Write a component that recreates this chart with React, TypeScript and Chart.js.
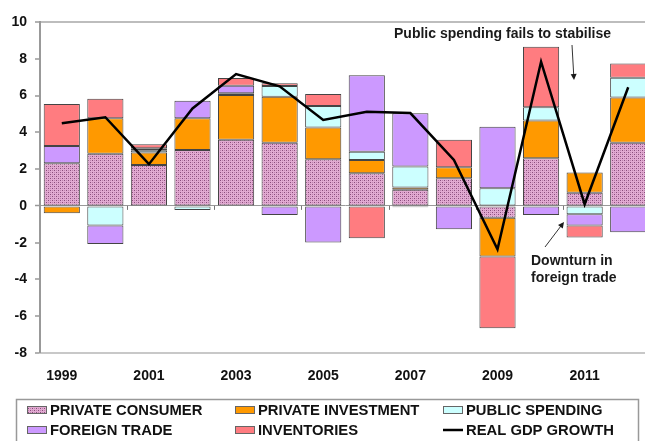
import React, { useEffect, useRef } from "react";
import { Chart, registerables } from "chart.js";

Chart.register(...registerables);

// ---------- DATA ----------
const years = ["1999", "2000", "2001", "2002", "2003", "2004", "2005", "2006", "2007", "2008", "2009", "2010", "2011", "2012"];
const privateConsumer = [2.32, 2.83, 2.23, 3.04, 3.6, 3.44, 2.54, 1.78, 0.88, 1.5, -0.65, 2.59, 0.72, 3.44];
const privateInvestment = [-0.4, 1.93, 0.67, 1.72, 2.43, 2.5, 1.72, 0.72, 0.12, 0.6, -2.1, 2.05, 1.09, 2.46];
const publicSpending = [0, -1.07, 0.12, -0.22, 0.1, 0.58, 1.17, 0.45, 1.14, 0, 0.96, 0.72, -0.45, 1.07];
const foreignTrade = [0.94, -1.0, 0.12, 0.96, 0.4, -0.49, -1.99, 4.15, 2.9, -1.27, 3.35, -0.49, -0.62, -1.43];
const inventories = [2.28, 1.07, 0.21, 0, 0.42, 0.15, 0.66, -1.76, -0.08, 1.49, -3.9, 3.3, -0.65, 0.78];
const realGdpGrowth = [4.49, 4.82, 2.27, 5.3, 7.17, 6.5, 4.67, 5.12, 5.05, 2.5, -2.36, 7.84, 0.09, 6.45];

const yMin = -8;
const yMax = 10;
const yStep = 2;

const legendLabels = ["PRIVATE CONSUMER", "PRIVATE INVESTMENT", "PUBLIC SPENDING", "FOREIGN TRADE", "INVENTORIES", "REAL GDP GROWTH"];
const noteTop = "Public spending fails to stabilise";
const noteBottom = ["Downturn in", "foreign trade"];

// ---------- STYLE ----------
const FONT = '"Liberation Sans", Arial, Helvetica, sans-serif';
const C_INVEST = "#ff9900";
const C_PUBLIC = "#ccffff";
const C_TRADE = "#cc99ff";
const C_INVENT = "#ff7c80";
const BORDER = "#444";

function makePattern(ctx: CanvasRenderingContext2D): CanvasPattern | string {
  const c = document.createElement("canvas");
  c.width = 4;
  c.height = 4;
  const g = c.getContext("2d");
  if (!g) return "#cc99bb";
  g.fillStyle = "#e2aad2";
  g.fillRect(0, 0, 4, 4);
  g.fillStyle = "#8a4c7c";
  g.fillRect(0, 0, 1, 1);
  g.fillRect(2, 2, 1, 1);
  g.fillStyle = "#bb84ac";
  g.fillRect(2, 0, 1, 1);
  g.fillRect(0, 2, 1, 1);
  const p = ctx.createPattern(c, "repeat");
  return p || "#cc99bb";
}

function drawArrow(ctx: CanvasRenderingContext2D, x1: number, y1: number, x2: number, y2: number) {
  const ang = Math.atan2(y2 - y1, x2 - x1);
  const len = 6;
  const wid = 3;
  ctx.beginPath();
  ctx.moveTo(x1, y1);
  ctx.lineTo(x2 - Math.cos(ang) * len * 0.6, y2 - Math.sin(ang) * len * 0.6);
  ctx.stroke();
  ctx.beginPath();
  ctx.moveTo(x2, y2);
  ctx.lineTo(x2 - Math.cos(ang) * len + Math.sin(ang) * wid, y2 - Math.sin(ang) * len - Math.cos(ang) * wid);
  ctx.lineTo(x2 - Math.cos(ang) * len - Math.sin(ang) * wid, y2 - Math.sin(ang) * len + Math.cos(ang) * wid);
  ctx.closePath();
  ctx.fill();
}

export default function App() {
  const ref = useRef<HTMLCanvasElement | null>(null);

  useEffect(() => {
    const canvas = ref.current;
    if (!canvas) return;
    const ctx0 = canvas.getContext("2d");
    if (!ctx0) return;
    const pattern = makePattern(ctx0);

    const zeroTicks = {
      id: "zeroTicks",
      beforeDatasetsDraw(chart: any) {
        const { ctx } = chart;
        const x = chart.scales.x;
        const y = chart.scales.y;
        const y0 = y.getPixelForValue(0);
        const half = (x.getPixelForValue(1) - x.getPixelForValue(0)) / 2;
        ctx.save();
        ctx.strokeStyle = "#777";
        ctx.lineWidth = 1;
        for (let i = 2; i <= years.length; i += 2) {
          const px = Math.round(x.getPixelForValue(i) - half) + 0.5;
          ctx.beginPath();
          ctx.moveTo(px, y0);
          ctx.lineTo(px, y0 + 4);
          ctx.stroke();
        }
        ctx.restore();
      },
    };

    const extras = {
      id: "extras",
      afterDraw(chart: any) {
        const { ctx } = chart;
        ctx.save();
        // annotations
        ctx.fillStyle = "#1a1a1a";
        ctx.strokeStyle = "#333";
        ctx.lineWidth = 1;
        ctx.font = `bold 14px ${FONT}`;
        ctx.textBaseline = "middle";
        ctx.textAlign = "left";
        ctx.fillText(noteTop, 394, 34);
        ctx.fillText(noteBottom[0], 531, 261);
        ctx.fillText(noteBottom[1], 531, 278);
        drawArrow(ctx, 572, 45, 574, 80);
        drawArrow(ctx, 545, 247, 564, 222);

        // legend
        ctx.strokeStyle = "#999";
        ctx.lineWidth = 1.5;
        ctx.strokeRect(16.5, 399.5, 622, 60);
        const cols = [27, 235, 443];
        const rows = [410, 430];
        const fills: (CanvasPattern | string | null)[] = [pattern, C_INVEST, C_PUBLIC, C_TRADE, C_INVENT, null];
        ctx.font = `bold 14.8px ${FONT}`;
        for (let i = 0; i < legendLabels.length; i++) {
          const cx = cols[i % 3];
          const cy = rows[Math.floor(i / 3)];
          const f = fills[i];
          if (f) {
            ctx.fillStyle = f;
            ctx.fillRect(cx, cy - 4, 20, 8);
            ctx.strokeStyle = "#666";
            ctx.lineWidth = 1;
            ctx.strokeRect(cx + 0.5, cy - 3.5, 19, 7);
          } else {
            ctx.strokeStyle = "#000";
            ctx.lineWidth = 2.5;
            ctx.beginPath();
            ctx.moveTo(cx, cy);
            ctx.lineTo(cx + 20, cy);
            ctx.stroke();
          }
          ctx.fillStyle = "#111";
          ctx.fillText(legendLabels[i], cx + 23, cy + 1);
        }
        ctx.restore();
      },
    };

    const barCommon = {
      type: "bar" as const,
      borderColor: BORDER,
      borderWidth: 1,
      borderSkipped: false,
      order: 1,
      stack: "gdp",
    };

    const chart = new Chart(canvas, {
      type: "bar",
      data: {
        labels: years,
        datasets: [
          {
            type: "line",
            label: legendLabels[5],
            data: realGdpGrowth,
            borderColor: "#000",
            borderWidth: 2.5,
            pointRadius: 0,
            tension: 0,
            fill: false,
            order: 0,
            stack: "line",
          } as any,
          { ...barCommon, label: legendLabels[0], data: privateConsumer, backgroundColor: pattern as any },
          { ...barCommon, label: legendLabels[1], data: privateInvestment, backgroundColor: C_INVEST },
          { ...barCommon, label: legendLabels[2], data: publicSpending, backgroundColor: C_PUBLIC },
          { ...barCommon, label: legendLabels[3], data: foreignTrade, backgroundColor: C_TRADE },
          { ...barCommon, label: legendLabels[4], data: inventories, backgroundColor: C_INVENT },
        ],
      },
      options: {
        responsive: false,
        animation: false,
        layout: { padding: { top: 22, right: 10, bottom: 46, left: 0 } },
        datasets: { bar: { categoryPercentage: 1, barPercentage: 0.83 } },
        plugins: { legend: { display: false }, tooltip: { enabled: false } },
        scales: {
          x: {
            type: "category",
            offset: true,
            stacked: true,
            grid: { display: false, drawTicks: false },
            border: { display: true, color: "#c8c8c8", width: 2 },
            ticks: {
              autoSkip: false,
              maxRotation: 0,
              padding: 15,
              color: "#111",
              font: { family: FONT, size: 14, weight: "bold" },
              callback: (_v: any, i: number) => (i % 2 === 0 ? years[i] : ""),
            },
            afterFit: (s: any) => {
              s.height = 42;
            },
          },
          y: {
            stacked: true,
            min: yMin,
            max: yMax,
            ticks: {
              stepSize: yStep,
              padding: 8,
              color: "#111",
              font: { family: FONT, size: 14, weight: "bold" },
            },
            grid: {
              color: (c: any) => (c.tick && c.tick.value === yMax ? "#bdbdbd" : c.tick && c.tick.value === 0 ? "#999" : "rgba(0,0,0,0)"),
              lineWidth: (c: any) => (c.tick && c.tick.value === yMax ? 2 : c.tick && c.tick.value === 0 ? 1 : 0),
              tickColor: "#999",
              tickLength: 5,
              tickWidth: 1.5,
            },
            border: { display: true, color: "#999", width: 2 },
            afterFit: (s: any) => {
              s.width = 40;
            },
          },
        },
      },
      plugins: [zeroTicks, extras],
    } as any);

    return () => chart.destroy();
  }, []);

  return (
    <div style={{ position: "fixed", left: 0, top: 0, width: 645, height: 441, overflow: "hidden", background: "#fff" }}>
      <canvas ref={ref} width={660} height={441} style={{ display: "block" }} />
    </div>
  );
}
